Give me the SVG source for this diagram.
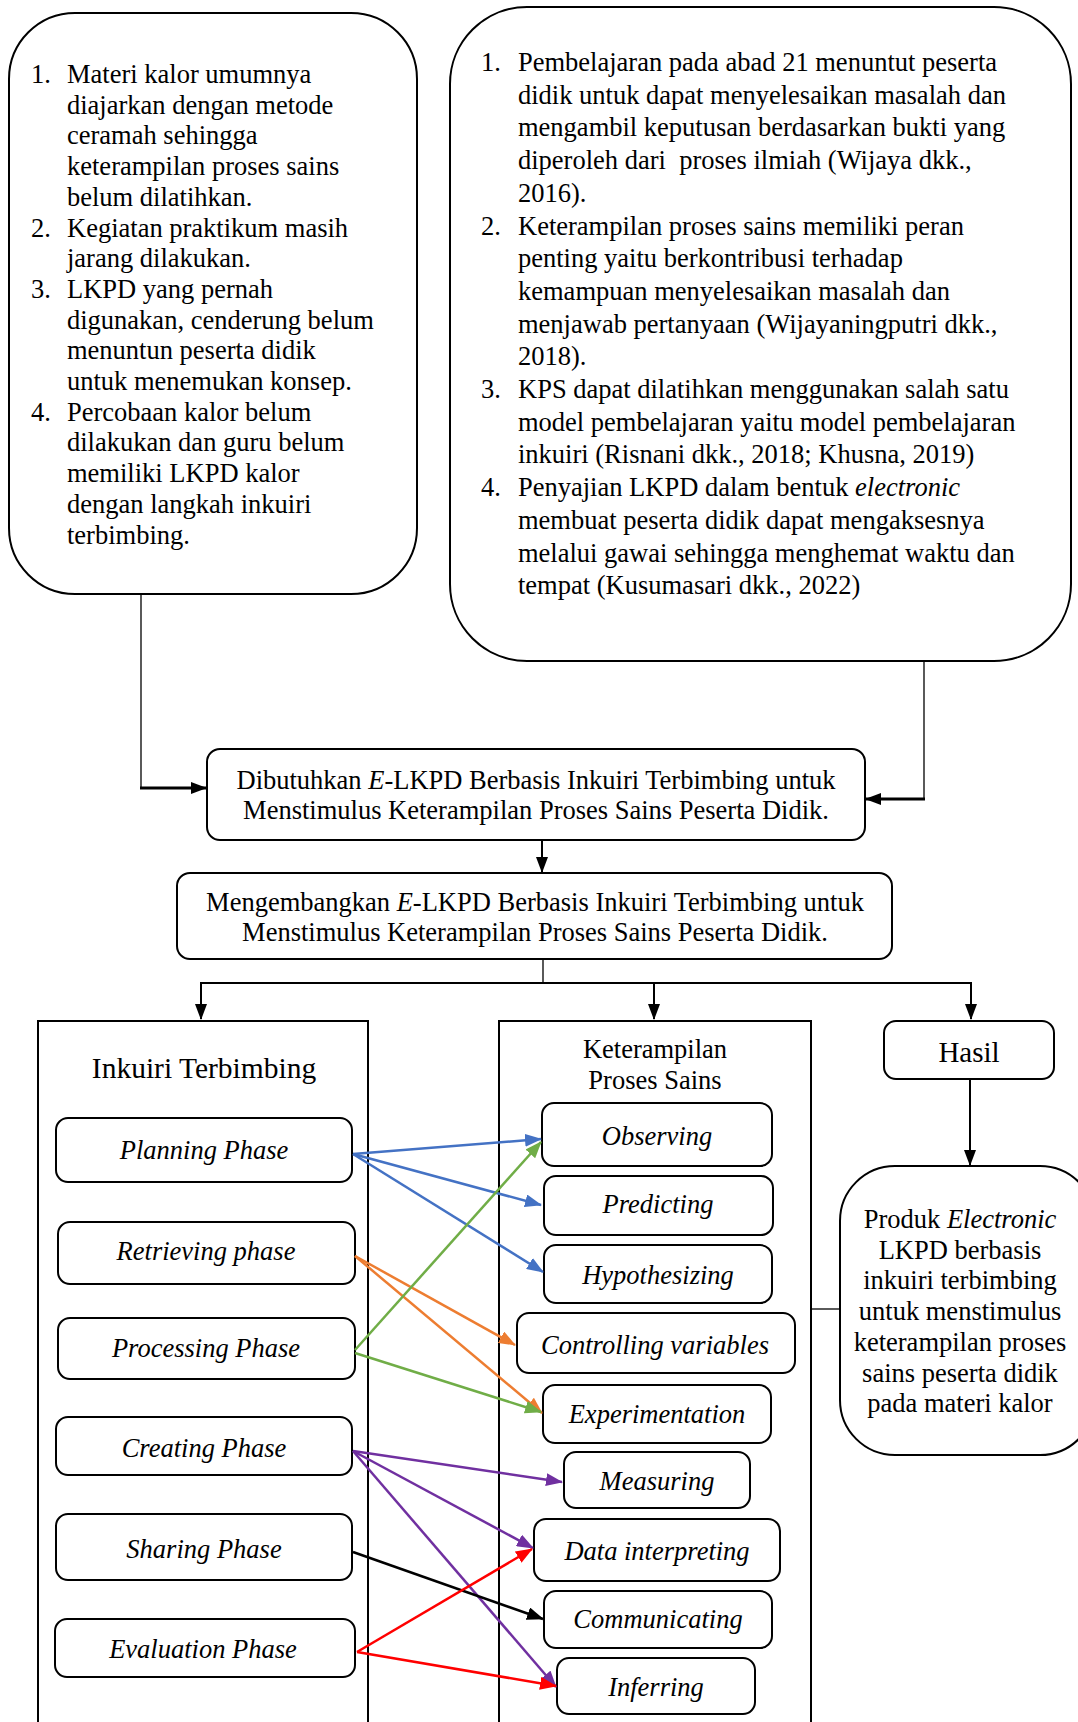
<svg xmlns="http://www.w3.org/2000/svg" width="1078" height="1722" viewBox="0 0 1078 1722">
<style>
text{font-family:"Liberation Serif","Times New Roman",serif;font-size:26.5px;fill:#000}
.c{text-anchor:middle}
.i{font-style:italic}
.box{fill:#fff;stroke:#000;stroke-width:2}
.col{fill:none;stroke:#000;stroke-width:2}
.k{stroke:#000;fill:none}
.a{fill:none;stroke-width:2.5}
</style>
<defs>
<marker id="mk" markerUnits="userSpaceOnUse" markerWidth="16" markerHeight="12" refX="15" refY="6" orient="auto"><path d="M0,0 L16,6 L0,12 z" fill="#000"/></marker>
<marker id="mb" markerUnits="userSpaceOnUse" markerWidth="17" markerHeight="13" refX="16" refY="6.5" orient="auto"><path d="M0,0 L17,6.5 L0,13 z" fill="#4472C4"/></marker>
<marker id="mo" markerUnits="userSpaceOnUse" markerWidth="17" markerHeight="13" refX="16" refY="6.5" orient="auto"><path d="M0,0 L17,6.5 L0,13 z" fill="#ED7D31"/></marker>
<marker id="mg" markerUnits="userSpaceOnUse" markerWidth="17" markerHeight="13" refX="16" refY="6.5" orient="auto"><path d="M0,0 L17,6.5 L0,13 z" fill="#70AD47"/></marker>
<marker id="mp" markerUnits="userSpaceOnUse" markerWidth="17" markerHeight="13" refX="16" refY="6.5" orient="auto"><path d="M0,0 L17,6.5 L0,13 z" fill="#7030A0"/></marker>
<marker id="mr" markerUnits="userSpaceOnUse" markerWidth="17" markerHeight="13" refX="16" refY="6.5" orient="auto"><path d="M0,0 L17,6.5 L0,13 z" fill="#FF0000"/></marker>
<marker id="mx" markerUnits="userSpaceOnUse" markerWidth="17" markerHeight="13" refX="16" refY="6.5" orient="auto"><path d="M0,0 L17,6.5 L0,13 z" fill="#000"/></marker>
</defs>
<rect width="1078" height="1722" fill="#fff"/>

<g id="problems">
<rect class="box" x="9" y="13" width="408" height="581" rx="66"/>
<text x="31" y="83">1.</text><text x="67" y="83">Materi kalor umumnya</text>
<text x="67" y="113.7">diajarkan dengan metode</text>
<text x="67" y="144.4">ceramah sehingga</text>
<text x="67" y="175.1">keterampilan proses sains</text>
<text x="67" y="205.8">belum dilatihkan.</text>
<text x="31" y="236.5">2.</text><text x="67" y="236.5">Kegiatan praktikum masih</text>
<text x="67" y="267.2">jarang dilakukan.</text>
<text x="31" y="297.9">3.</text><text x="67" y="297.9">LKPD yang pernah</text>
<text x="67" y="328.6">digunakan, cenderung belum</text>
<text x="67" y="359.3">menuntun peserta didik</text>
<text x="67" y="390">untuk menemukan konsep.</text>
<text x="31" y="420.7">4.</text><text x="67" y="420.7">Percobaan kalor belum</text>
<text x="67" y="451.4">dilakukan dan guru belum</text>
<text x="67" y="482.1">memiliki LKPD kalor</text>
<text x="67" y="512.8">dengan langkah inkuiri</text>
<text x="67" y="543.5">terbimbing.</text>
</g>

<g id="theory">
<rect class="box" x="450" y="7" width="621" height="654" rx="77"/>
<text x="481" y="71">1.</text><text x="518" y="71">Pembelajaran pada abad 21 menuntut peserta</text>
<text x="518" y="103.7">didik untuk dapat menyelesaikan masalah dan</text>
<text x="518" y="136.4">mengambil keputusan berdasarkan bukti yang</text>
<text x="518" y="169.1" style="white-space:pre">diperoleh dari  proses ilmiah (Wijaya dkk.,</text>
<text x="518" y="201.8">2016).</text>
<text x="481" y="234.5">2.</text><text x="518" y="234.5">Keterampilan proses sains memiliki peran</text>
<text x="518" y="267.2">penting yaitu berkontribusi terhadap</text>
<text x="518" y="299.9">kemampuan menyelesaikan masalah dan</text>
<text x="518" y="332.6">menjawab pertanyaan (Wijayaningputri dkk.,</text>
<text x="518" y="365.3">2018).</text>
<text x="481" y="398">3.</text><text x="518" y="398">KPS dapat dilatihkan menggunakan salah satu</text>
<text x="518" y="430.7">model pembelajaran yaitu model pembelajaran</text>
<text x="518" y="463.4">inkuiri (Risnani dkk., 2018; Khusna, 2019)</text>
<text x="481" y="496.1">4.</text><text x="518" y="496.1">Penyajian LKPD dalam bentuk <tspan class="i">electronic</tspan></text>
<text x="518" y="528.8">membuat peserta didik dapat mengaksesnya</text>
<text x="518" y="561.5">melalui gawai sehingga menghemat waktu dan</text>
<text x="518" y="594.2">tempat (Kusumasari dkk., 2022)</text>
</g>

<g id="need">
<rect class="box" x="207" y="749" width="658" height="91" rx="13"/>
<text class="c" x="536" y="789">Dibutuhkan <tspan class="i">E</tspan>-LKPD Berbasis Inkuiri Terbimbing untuk</text>
<text class="c" x="536" y="819">Menstimulus Keterampilan Proses Sains Peserta Didik.</text>
</g>

<g id="develop">
<rect class="box" x="177" y="873" width="715" height="86" rx="13"/>
<text class="c" x="535" y="911">Mengembangkan <tspan class="i">E</tspan>-LKPD Berbasis Inkuiri Terbimbing untuk</text>
<text class="c" x="535" y="941">Menstimulus Keterampilan Proses Sains Peserta Didik.</text>
</g>

<g id="inkuiri">
<rect class="col" x="38" y="1021" width="330" height="720"/>
<text class="c" x="204" y="1078" style="font-size:29.5px">Inkuiri Terbimbing</text>
</g>
<g id="planning"><rect class="box" x="56" y="1118" width="296" height="64" rx="12"/><text class="c i" x="204" y="1159">Planning Phase</text></g>
<g id="retrieving"><rect class="box" x="58" y="1222" width="297" height="62" rx="12"/><text class="c i" x="206" y="1260">Retrieving phase</text></g>
<g id="processing"><rect class="box" x="58" y="1318" width="297" height="61" rx="12"/><text class="c i" x="206" y="1357">Processing Phase</text></g>
<g id="creating"><rect class="box" x="56" y="1417" width="296" height="58" rx="12"/><text class="c i" x="204" y="1457">Creating Phase</text></g>
<g id="sharing"><rect class="box" x="56" y="1514" width="296" height="66" rx="12"/><text class="c i" x="204" y="1558">Sharing Phase</text></g>
<g id="evaluation"><rect class="box" x="55" y="1619" width="300" height="58" rx="12"/><text class="c i" x="203" y="1658">Evaluation Phase</text></g>

<g id="kps">
<rect class="col" x="499" y="1021" width="312" height="720"/>
<text class="c" x="655" y="1058">Keterampilan</text>
<text class="c" x="655" y="1089">Proses Sains</text>
</g>
<g id="observing"><rect class="box" x="542" y="1103" width="230" height="63" rx="12"/><text class="c i" x="657" y="1145">Observing</text></g>
<g id="predicting"><rect class="box" x="544" y="1176" width="229" height="59" rx="12"/><text class="c i" x="658" y="1213">Predicting</text></g>
<g id="hypothesizing"><rect class="box" x="544" y="1245" width="228" height="58" rx="12"/><text class="c i" x="658" y="1284">Hypothesizing</text></g>
<g id="controlling"><rect class="box" x="517" y="1313" width="278" height="60" rx="12"/><text class="c i" x="655" y="1354">Controlling variables</text></g>
<g id="experimentation"><rect class="box" x="543" y="1385" width="228" height="58" rx="12"/><text class="c i" x="657" y="1423">Experimentation</text></g>
<g id="measuring"><rect class="box" x="564" y="1452" width="186" height="56" rx="12"/><text class="c i" x="657" y="1490">Measuring</text></g>
<g id="interpreting"><rect class="box" x="534" y="1519" width="246" height="62" rx="12"/><text class="c i" x="657" y="1560">Data interpreting</text></g>
<g id="communicating"><rect class="box" x="544" y="1591" width="228" height="57" rx="12"/><text class="c i" x="658" y="1628">Communicating</text></g>
<g id="inferring"><rect class="box" x="557" y="1658" width="198" height="56" rx="12"/><text class="c i" x="656" y="1696">Inferring</text></g>

<g id="hasil"><rect class="box" x="884" y="1021" width="170" height="58" rx="12"/><text class="c" x="969" y="1062" style="font-size:29px">Hasil</text></g>
<g id="produk">
<rect class="box" x="840" y="1166" width="255" height="289" rx="55"/>
<text class="c" x="960" y="1228">Produk <tspan class="i">Electronic</tspan></text>
<text class="c" x="960" y="1258.7">LKPD berbasis</text>
<text class="c" x="960" y="1289.4">inkuiri terbimbing</text>
<text class="c" x="960" y="1320.1">untuk menstimulus</text>
<text class="c" x="960" y="1350.8">keterampilan proses</text>
<text class="c" x="960" y="1381.5">sains peserta didik</text>
<text class="c" x="960" y="1412.2">pada materi kalor</text>
</g>

<g id="connectors">
<path class="k" stroke-width="1.3" d="M141,594 V788"/>
<path class="k" stroke-width="3" d="M140,788 H206" marker-end="url(#mk)"/>
<path class="k" stroke-width="1.3" d="M924,661 V799"/>
<path class="k" stroke-width="3" d="M925,799 H866" marker-end="url(#mk)"/>
<path class="k" stroke-width="2" d="M542,840 V872" marker-end="url(#mk)"/>
<path class="k" stroke-width="1.3" d="M543,959 V983"/>
<path class="k" stroke-width="2" d="M201,983 H971"/>
<path class="k" stroke-width="2" d="M201,982 V1019" marker-end="url(#mk)"/>
<path class="k" stroke-width="2" d="M654,982 V1019" marker-end="url(#mk)"/>
<path class="k" stroke-width="2" d="M971,982 V1019" marker-end="url(#mk)"/>
<path class="k" stroke-width="2" d="M970,1079 V1165" marker-end="url(#mk)"/>
<path class="k" stroke-width="1.3" d="M811,1309 H840"/>

<path class="a" stroke="#4472C4" d="M353,1154 L541,1139" marker-end="url(#mb)"/>
<path class="a" stroke="#4472C4" d="M353,1154 L541,1205" marker-end="url(#mb)"/>
<path class="a" stroke="#4472C4" d="M353,1154 L543,1272" marker-end="url(#mb)"/>
<path class="a" stroke="#ED7D31" d="M355,1256 L515,1345" marker-end="url(#mo)"/>
<path class="a" stroke="#ED7D31" d="M355,1256 L542,1413" marker-end="url(#mo)"/>
<path class="a" stroke="#70AD47" d="M355,1350 L541,1142" marker-end="url(#mg)"/>
<path class="a" stroke="#70AD47" d="M355,1353 L541,1412" marker-end="url(#mg)"/>
<path class="a" stroke="#7030A0" d="M353,1451 L562,1482" marker-end="url(#mp)"/>
<path class="a" stroke="#7030A0" d="M353,1451 L533,1548" marker-end="url(#mp)"/>
<path class="a" stroke="#7030A0" d="M353,1451 L556,1687" marker-end="url(#mp)"/>
<path class="a" stroke="#000" d="M353,1552 L543,1619" marker-end="url(#mx)"/>
<path class="a" stroke="#FF0000" d="M357,1652 L532,1549" marker-end="url(#mr)"/>
<path class="a" stroke="#FF0000" d="M357,1652 L556,1686" marker-end="url(#mr)"/>
</g>
</svg>
